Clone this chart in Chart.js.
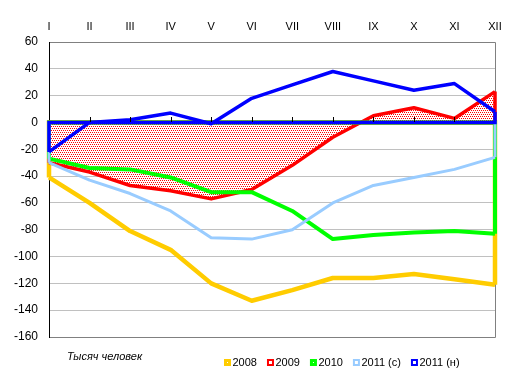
<!DOCTYPE html>
<html>
<head>
<meta charset="utf-8">
<script src="https://cdn.jsdelivr.net/npm/chart.js@4/dist/chart.umd.min.js"></script>
<style>
  html, body { margin: 0; padding: 0; background: #fff; }
  canvas { display: block; }
</style>
</head>
<body>
<canvas id="chart" width="514" height="383"></canvas>
<script>
// months on the category axis
var months = ["I", "II", "III", "IV", "V", "VI", "VII", "VIII", "IX", "X", "XI", "XII"];
var seriesNames = ["2008", "2009", "2010", "2011 (с)", "2011 (н)"];

// values, thousand people
var v2008 = [-41, -60, -81, -95, -120, -133, -125, -116, -116, -113, -117, -121];
var v2009 = [-30, -37, -47, -51, -57, -50, -32, -11, 5, 11, 3, 23];
var v2010 = [-27, -34, -35, -41, -52, -52, -66, -87, -84, -82, -81, -83];
var v2011c = [-30, -43, -53, -66, -86, -87, -80, -60, -47, -41, -35, -26];
var v2011n = [-22, 0, 2, 7, -1, 18, 28, 38, 31, 24, 29, 8];

var yTicks = { min: -160, max: 60, step: 20 };
var unitText = "Тысяч человек";

Chart.defaults.font.family = "'Liberation Sans', Arial, sans-serif";
Chart.defaults.color = "#000";

// red dotted fill for 2009
var pc = document.createElement("canvas");
pc.width = 4; pc.height = 4;
var pctx = pc.getContext("2d");
pctx.fillStyle = "#fff";
pctx.fillRect(0, 0, 4, 4);
pctx.fillStyle = "#f00";
[[0, 0], [2, 0], [1, 2], [3, 2]].forEach(function (p) { pctx.fillRect(p[0], p[1], 1, 1); });
var dots = pctx.createPattern(pc, "repeat");

function ds(label, data, color, width, order, fill) {
    return {
        label: label,
        data: data,
        borderColor: color,
        backgroundColor: fill || "transparent",
        fill: fill ? "origin" : false,
        borderWidth: width,
        borderJoinStyle: "round",
        pointRadius: 0,
        tension: 0,
        order: order
    };
}

// area outline: vertical sides and baseline, like an excel area border
var areaEdges = {
    id: "areaEdges",
    afterDatasetDraw: function (chart, args) {
        var d = chart.data.datasets[args.index];
        var pts = args.meta.data;
        var y0 = chart.scales.y.getPixelForValue(0);
        var a = pts[0], b = pts[pts.length - 1];
        var c = chart.ctx;
        c.save();
        c.strokeStyle = d.borderColor;
        c.lineWidth = d.borderWidth;
        c.lineJoin = "miter";
        c.beginPath();
        c.moveTo(b.x, b.y);
        c.lineTo(b.x, y0);
        c.lineTo(a.x, y0);
        c.lineTo(a.x, a.y);
        c.stroke();
        c.restore();
    }
};

var frame = {
    id: "frame",
    beforeDatasetsDraw: function (chart) {
        var a = chart.chartArea, c = chart.ctx;
        c.save();
        c.strokeStyle = "#808080";
        c.lineWidth = 1;
        c.beginPath();
        c.moveTo(a.left, a.top + 0.5);
        c.lineTo(a.right + 0.5, a.top + 0.5);
        c.lineTo(a.right + 0.5, a.bottom + 0.5);
        c.lineTo(a.left, a.bottom + 0.5);
        c.stroke();
        c.strokeStyle = "#000";
        c.beginPath();
        c.moveTo(a.left + 0.5, a.top);
        c.lineTo(a.left + 0.5, a.bottom + 1);
        c.stroke();
        c.restore();
    },
    afterDatasetsDraw: function (chart) {
        var xs = chart.scales.x, c = chart.ctx;
        var y0 = Math.round(chart.scales.y.getPixelForValue(0));
        c.save();
        c.strokeStyle = "#000";
        c.lineWidth = 1;
        for (var i = 1; i < months.length - 1; i++) {
            var x = Math.round(xs.getPixelForTick(i)) + 0.5;
            c.beginPath();
            c.moveTo(x, y0 - 5);
            c.lineTo(x, y0);
            c.stroke();
        }
        c.restore();
    },
    afterDraw: function (chart) {
        var c = chart.ctx;
        c.save();
        c.fillStyle = "#000";
        c.font = "italic 11px 'Liberation Sans', Arial, sans-serif";
        c.textBaseline = "alphabetic";
        c.fillText(unitText, 67, 359.5);

        // legend
        c.font = "11px 'Liberation Sans', Arial, sans-serif";
        c.textBaseline = "middle";
        var x = 224, y = 363;
        chart.data.datasets.forEach(function (d) {
            var inner = d.borderWidth >= 4 ? 1 : 3;
            var box = 7, off = (box - inner) / 2;
            c.fillStyle = d.borderColor;
            c.fillRect(x, y - 4, box, box);
            c.fillStyle = "#fff";
            c.fillRect(x + off, y - 4 + off, inner, inner);
            c.fillStyle = "#000";
            c.fillText(d.label, x + box + 1.5, y);
            x += box + 1.5 + c.measureText(d.label).width + 10;
        });
        c.restore();
    }
};

new Chart(document.getElementById("chart"), {
    type: "line",
    data: {
        labels: months,
        datasets: [
            ds(seriesNames[0], v2008, "#FFCC00", 4.5, 5),
            ds(seriesNames[1], v2009, "#FF0000", 3.5, 4, dots),
            ds(seriesNames[2], v2010, "#00FF00", 4, 3),
            ds(seriesNames[3], v2011c, "#99CCFF", 3, 2),
            ds(seriesNames[4], v2011n, "#0000FF", 3.5, 1)
        ]
    },
    options: {
        responsive: false,
        animation: false,
        devicePixelRatio: 1,
        layout: { padding: { left: 0, right: 19, top: 0, bottom: 46 } },
        plugins: {
            legend: { display: false },
            tooltip: { enabled: false }
        },
        scales: {
            x: {
                position: "top",
                offset: false,
                grid: { display: false, drawTicks: false },
                border: { display: false },
                ticks: { font: { size: 11 }, padding: 8, maxRotation: 0, autoSkip: false },
                afterFit: function (s) { s.height = 42; }
            },
            y: {
                min: yTicks.min,
                max: yTicks.max,
                grid: { color: "#c0c0c0", drawTicks: false },
                border: { color: "#000" },
                ticks: { stepSize: yTicks.step, font: { size: 12 }, padding: 11 },
                afterFit: function (s) { s.width = 49; }
            }
        }
    },
    plugins: [areaEdges, frame]
});
</script>
</body>
</html>
